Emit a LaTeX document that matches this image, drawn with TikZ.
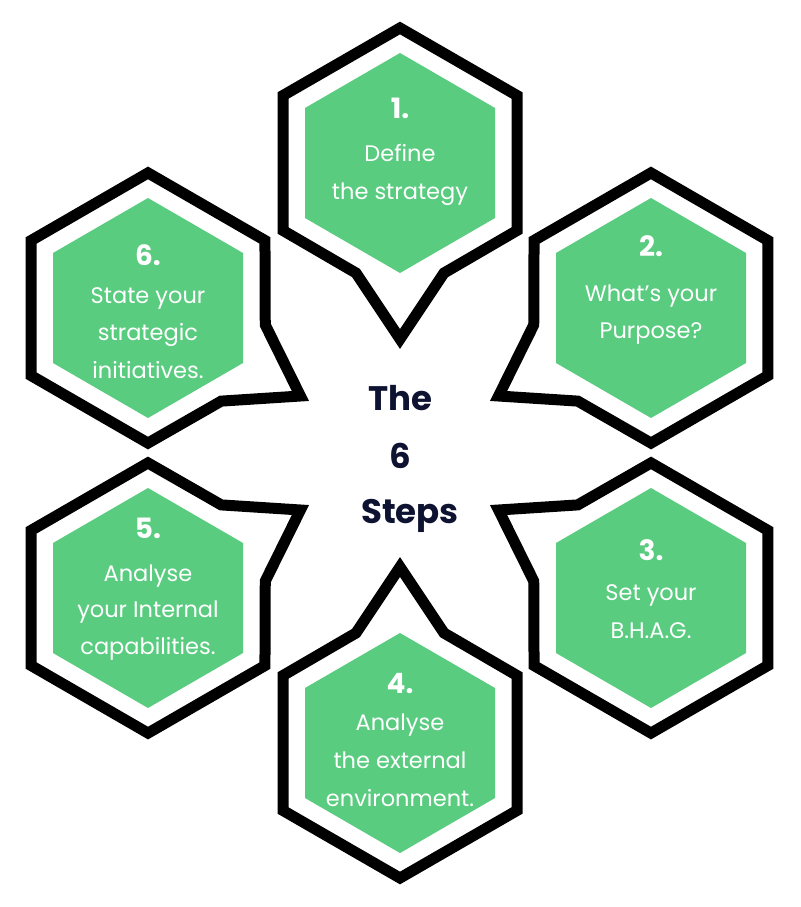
\documentclass[tikz,border=0pt]{standalone}
\usepackage{fontspec}
\setmainfont{Poppins}
\begin{document}
\begin{tikzpicture}[x=1pt,y=-1pt,
  outline/.style={draw=black,line width=11pt,line join=miter,fill=white},
  hexfill/.style={fill=stepgreen,draw=none},
  num/.style={text=white,font=\fontsize{28}{28}\selectfont\bfseries,anchor=base},
  body/.style={text=white,font=\fontsize{22.5}{22.5}\selectfont,anchor=base},
  title/.style={text=navy,font=\fontsize{34}{34}\selectfont\bfseries,anchor=base}]
\definecolor{stepgreen}{HTML}{59CC80}
\definecolor{navy}{HTML}{0E1332}
\useasboundingbox (0,0) rectangle (800,907);
\fill[white] (0,0) rectangle (800,907);
\foreach \cx/\cy/\rot in {400/163/0, 651/308/-60, 651/598/-120, 400/743/180, 148/598/120, 148/308/60}{
  \draw[outline,shift={(\cx,\cy)},rotate=\rot]
    (0,-135) -- (117,-67.5) -- (117,67.5) -- (44,110) -- (0,176) -- (-44,110)
    -- (-117,67.5) -- (-117,-67.5) -- cycle;
  \fill[hexfill,shift={(\cx,\cy)}]
    (0,-110) -- (95,-55) -- (95,55) -- (0,110) -- (-95,55) -- (-95,-55) -- cycle;
}
% shape 1
\node[num] (n1) at (400,118) {1.};
\node[body] (a1) at (400,161) {Define};
\node[body] (b1) at (400,199) {the strategy};
% shape 2
\node[num] (n2) at (651,256) {2.};
\node[body] (a2) at (651,301) {What’s your};
\node[body] (b2) at (651,338) {Purpose?};
% shape 3
\node[num] (n3) at (651,560) {3.};
\node[body] (a3) at (651,600) {Set your};
\node[body] (b3) at (651,638) {B.H.A.G.};
% shape 4
\node[num] (n4) at (400,693) {4.};
\node[body] (a4) at (400,730) {Analyse};
\node[body] (b4) at (400,768) {the external};
\node[body] (c4) at (400,806) {environment.};
% shape 5
\node[num] (n5) at (148,538) {5.};
\node[body] (a5) at (148,581) {Analyse};
\node[body] (b5) at (148,617) {your Internal};
\node[body] (c5) at (148,654) {capabilities.};
% shape 6
\node[num] (n6) at (148,265) {6.};
\node[body] (a6) at (148,303) {State your};
\node[body] (b6) at (148,340) {strategic};
\node[body] (c6) at (148,378) {initiatives.};
% centre
\node[title] (t1) at (400,410) {The};
\node[title] (t2) at (400,468) {6};
\node[title] (t3) at (410,523) {Steps};
\end{tikzpicture}
\end{document}
